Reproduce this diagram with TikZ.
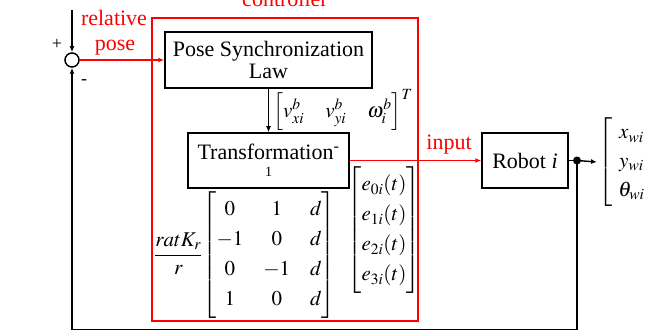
\documentclass[tikz,border=0pt]{standalone}
\usepackage{amsmath}
\usepackage{mathptmx}
\usepackage{fontspec}
\setmainfont{Liberation Serif}
\usepackage{tikz}
\usetikzlibrary{arrows.meta,positioning}
\definecolor{CtrlRed}{HTML}{FF0000}

\begin{document}
\begin{tikzpicture}[x=1pt,y=-1pt,font=\fontsize{22}{25}\selectfont]
  \path[use as bounding box] (0,0) rectangle (648,331);

  \tikzset{
    scBlock/.style={
      draw=black,
      fill=white,
      line width=1.5pt,
      align=center,
      inner sep=0pt
    },
    scFrame/.style={
      draw=CtrlRed,
      line width=1.6pt,
      inner sep=0pt
    },
    scFlow/.style={
      -{Latex[length=6pt,width=5pt]},
      draw=black,
      line width=1.4pt
    },
    scRedFlow/.style={
      -{Latex[length=6pt,width=5pt]},
      draw=CtrlRed,
      line width=1.4pt
    },
    scRedText/.style={
      text=CtrlRed,
      inner sep=0pt
    },
    scMath/.style={
      inner sep=1pt,
      font=\fontsize{21}{24}\selectfont
    }
  }

  % controller frame and its title
  \node[scFrame,minimum width=266pt,minimum height=303pt] (ctrl) at (285,169.5) {};
  \node[scRedText,anchor=base] (ctrlTitle) at (285,7) {controller};

  % summing junction with reference input
  \node[draw,circle,line width=1.5pt,minimum size=14pt,inner sep=0pt] (sum) at (72,60) {};
  \coordinate (refIn) at (72,10);
  \node[inner sep=0pt,font=\fontsize{18}{20}\selectfont] (plus)  at (57,44) {+};
  \node[inner sep=0pt,font=\fontsize{18}{20}\selectfont] (minus) at (84,82) {-};
  \node[scRedText,anchor=base] (relLbl)  at (114,26) {relative};
  \node[scRedText,anchor=base] (poseLbl) at (115,51) {pose};

  % blocks
  \node[scBlock,minimum width=207pt,minimum height=56pt] (sync)  at (268.5,60)
    {Pose Synchronization\\[-3pt]Law};
  \node[scBlock,minimum width=161pt,minimum height=55pt] (trans) at (268.5,160.5)
    {Transformation\textsuperscript{-}\\[-8pt]{\fontsize{14}{16}\selectfont 1}};
  \node[scBlock,minimum width=86pt,minimum height=55pt]  (robot) at (525,160.5)
    {Robot \textit{i}};
  \node[scRedText,anchor=base] (inLbl) at (449,150) {input};

  % signal vectors
  \node[scMath] (velVec) at (343,110)
    {$\left[v^{b}_{xi}\quad v^{b}_{yi}\quad \omega^{b}_{i}\right]^{T}$};
  \node[scMath] (gainMat) at (245,255)
    {$\dfrac{ratK_{r}}{r}{\setlength{\arraycolsep}{10pt}\renewcommand{\arraystretch}{1.25}
      \begin{bmatrix} 0 & 1 & d\\ -1 & 0 & d\\ 0 & -1 & d\\ 1 & 0 & d \end{bmatrix}}$};
  \node[scMath] (errVec) at (384,230)
    {${\renewcommand{\arraystretch}{1.25}\setlength{\arraycolsep}{3pt}
      \begin{bmatrix} e_{0i}(t)\\ e_{1i}(t)\\ e_{2i}(t)\\ e_{3i}(t) \end{bmatrix}}$};
  \node[scMath,anchor=west] (outVec) at (597,162)
    {${\renewcommand{\arraystretch}{1.2}
      \begin{bmatrix} \hspace{7pt}x_{wi}\hspace{7pt}\\ y_{wi}\\ \theta_{wi} \end{bmatrix}}$};

  % output pick-off and feedback path
  \node[circle,fill=black,minimum size=8pt,inner sep=0pt] (pick) at (577,160.5) {};
  \coordinate (fbCorner) at (577,329.5);

  \draw[scFlow] (refIn) -- (sum.north);
  \draw[scRedFlow] (sum.east) -- (sync.west);
  \draw[scFlow] (sync.south) -- (trans.north);
  \draw[scRedFlow] (trans.east) -- (robot.west);
  \draw[line width=1.4pt] (robot.east) -- (pick.center);
  \draw[scFlow] (pick.center) -- (outVec.west);
  \draw[scFlow] (pick.center) -- (fbCorner) -| (sum.south);
\end{tikzpicture}
\end{document}
